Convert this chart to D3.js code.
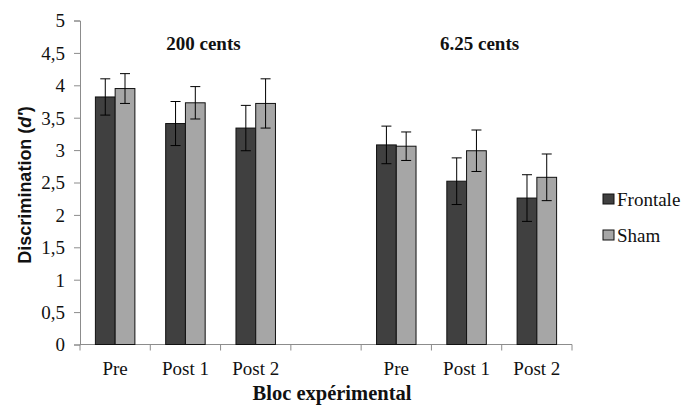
<!DOCTYPE html>
<html>
<head>
<meta charset="utf-8">
<script src="https://cdn.jsdelivr.net/npm/d3@7"></script>
<style>
  html, body { margin: 0; padding: 0; background: #fff; }
  svg { display: block; }
</style>
</head>
<body>
<svg id="chart" width="685" height="406"></svg>
<script>
// Blocks on the x axis (the empty slot separates the two conditions)
const categories = ["Pre", "Post 1", "Post 2", "", "Pre", "Post 1", "Post 2"];
const seriesNames = ["Frontale", "Sham"];
// Mean discrimination (d') per block
const frontale = [3.82, 3.41, 3.34, null, 3.08, 2.52, 2.26];
const sham     = [3.95, 3.73, 3.72, null, 3.06, 2.99, 2.58];
// Error bar half-lengths
const frontaleErr = [0.28, 0.34, 0.35, null, 0.29, 0.36, 0.36];
const shamErr     = [0.23, 0.25, 0.38, null, 0.22, 0.32, 0.36];
// Condition titles and the slot each one sits over
const groupTitles = ["200 cents", "6.25 cents"];
const groupSlots = [1, 5];
const yTicks = [0, 0.5, 1, 1.5, 2, 2.5, 3, 3.5, 4, 4.5, 5];

const colors = { Frontale: "#404040", Sham: "#a6a6a6" };
const SERIF = "'Liberation Serif', 'Times New Roman', serif";
const SANS = "'Liberation Sans', Arial, sans-serif";

const svg = d3.select("#chart");
const plotLeft = 80, plotRight = 572, plotTop = 20.5, plotBottom = 344.5;

const x0 = d3.scaleBand().domain(d3.range(categories.length)).range([plotLeft, plotRight]).padding(0);
const x1 = d3.scaleBand().domain(seriesNames).range([0, x0.bandwidth()]).paddingInner(0).paddingOuter(0.78);
const y = d3.scaleLinear().domain([0, 5]).range([plotBottom, plotTop]);

const commaFmt = d3.formatLocale({ decimal: ",", thousands: " ", grouping: [3], currency: ["", " €"] }).format("~g");

function serifText(sel, size, weight) {
  sel.style("font-family", SERIF)
     .style("font-size", size + "px")
     .style("font-weight", weight || "normal")
     .attr("fill", "#111");
}

// Y axis
const yAxis = svg.append("g")
  .attr("transform", `translate(${plotLeft},0)`)
  .call(d3.axisLeft(y).tickValues(yTicks).tickSize(6).tickPadding(9).tickFormat(commaFmt));
yAxis.select(".domain").attr("stroke", "#8c8c8c");
yAxis.selectAll(".tick line").attr("stroke", "#8c8c8c");
yAxis.selectAll(".tick text")
  .call(serifText, 19)
  .attr("dy", "0.34em");

// X axis: baseline, boundary ticks and category labels
const xAxis = svg.append("g");
xAxis.append("line")
  .attr("x1", plotLeft).attr("x2", plotRight)
  .attr("y1", y(0)).attr("y2", y(0))
  .attr("stroke", "#8c8c8c");
const bounds = d3.range(categories.length).map(i => x0(i)).concat([plotRight]);
xAxis.selectAll("line.bound").data(bounds).join("line")
  .attr("class", "bound")
  .attr("x1", d => d).attr("x2", d => d)
  .attr("y1", y(0)).attr("y2", y(0) + 6)
  .attr("stroke", "#8c8c8c");
xAxis.selectAll("text.cat").data(categories).join("text")
  .attr("class", "cat")
  .attr("x", (d, i) => x0(i) + x0.bandwidth() / 2)
  .attr("y", 375)
  .attr("text-anchor", "middle")
  .call(serifText, 19)
  .text(d => d);

// Bars
const rows = categories.map((c, i) => ({
  i,
  values: [
    { name: "Frontale", v: frontale[i], e: frontaleErr[i] },
    { name: "Sham", v: sham[i], e: shamErr[i] }
  ].filter(d => d.v != null)
}));

const groups = svg.append("g").selectAll("g").data(rows).join("g")
  .attr("transform", d => `translate(${x0(d.i)},0)`);

groups.selectAll("rect").data(d => d.values).join("rect")
  .attr("x", d => x1(d.name))
  .attr("y", d => y(d.v))
  .attr("width", x1.bandwidth())
  .attr("height", d => y(0) - y(d.v))
  .attr("fill", d => colors[d.name])
  .attr("stroke", "#111")
  .attr("stroke-width", 1);

// Error bars
const eb = groups.selectAll("g.err").data(d => d.values).join("g")
  .attr("class", "err")
  .attr("transform", d => `translate(${x1(d.name) + x1.bandwidth() / 2},0)`)
  .attr("stroke", "#000").attr("stroke-width", 1);
eb.append("line").attr("x1", 0).attr("x2", 0)
  .attr("y1", d => y(d.v + d.e)).attr("y2", d => y(d.v - d.e));
eb.append("line").attr("x1", -5).attr("x2", 5)
  .attr("y1", d => y(d.v + d.e)).attr("y2", d => y(d.v + d.e));
eb.append("line").attr("x1", -5).attr("x2", 5)
  .attr("y1", d => y(d.v - d.e)).attr("y2", d => y(d.v - d.e));

// Condition titles
svg.selectAll("text.title").data(groupTitles).join("text")
  .attr("class", "title")
  .attr("x", (d, i) => x0(groupSlots[i]) + x0.bandwidth() / 2 + (i === 0 ? 18 : 13))
  .attr("y", 50)
  .attr("text-anchor", "middle")
  .call(serifText, 19, "bold")
  .text(d => d);

// Axis titles
svg.append("text")
  .attr("transform", "translate(31,185) rotate(-90)")
  .attr("text-anchor", "middle")
  .style("font-family", SANS)
  .style("font-size", "18px")
  .style("font-weight", "bold")
  .attr("fill", "#111")
  .call(t => {
    t.append("tspan").text("Discrimination  (");
    t.append("tspan").style("font-style", "italic").text("d'");
    t.append("tspan").text(")");
  });

svg.append("text")
  .attr("x", (plotLeft + plotRight) / 2 + 6)
  .attr("y", 400)
  .attr("text-anchor", "middle")
  .call(serifText, 20.5, "bold")
  .text("Bloc expérimental");

// Legend
const legend = svg.append("g").selectAll("g").data(seriesNames).join("g")
  .attr("transform", (d, i) => `translate(603,${194 + i * 36})`);
legend.append("rect")
  .attr("width", 11).attr("height", 10)
  .attr("fill", d => colors[d])
  .attr("stroke", "#111").attr("stroke-width", 1);
legend.append("text")
  .attr("x", 14).attr("y", 12)
  .call(serifText, 19)
  .text(d => d);
</script>
</body>
</html>
